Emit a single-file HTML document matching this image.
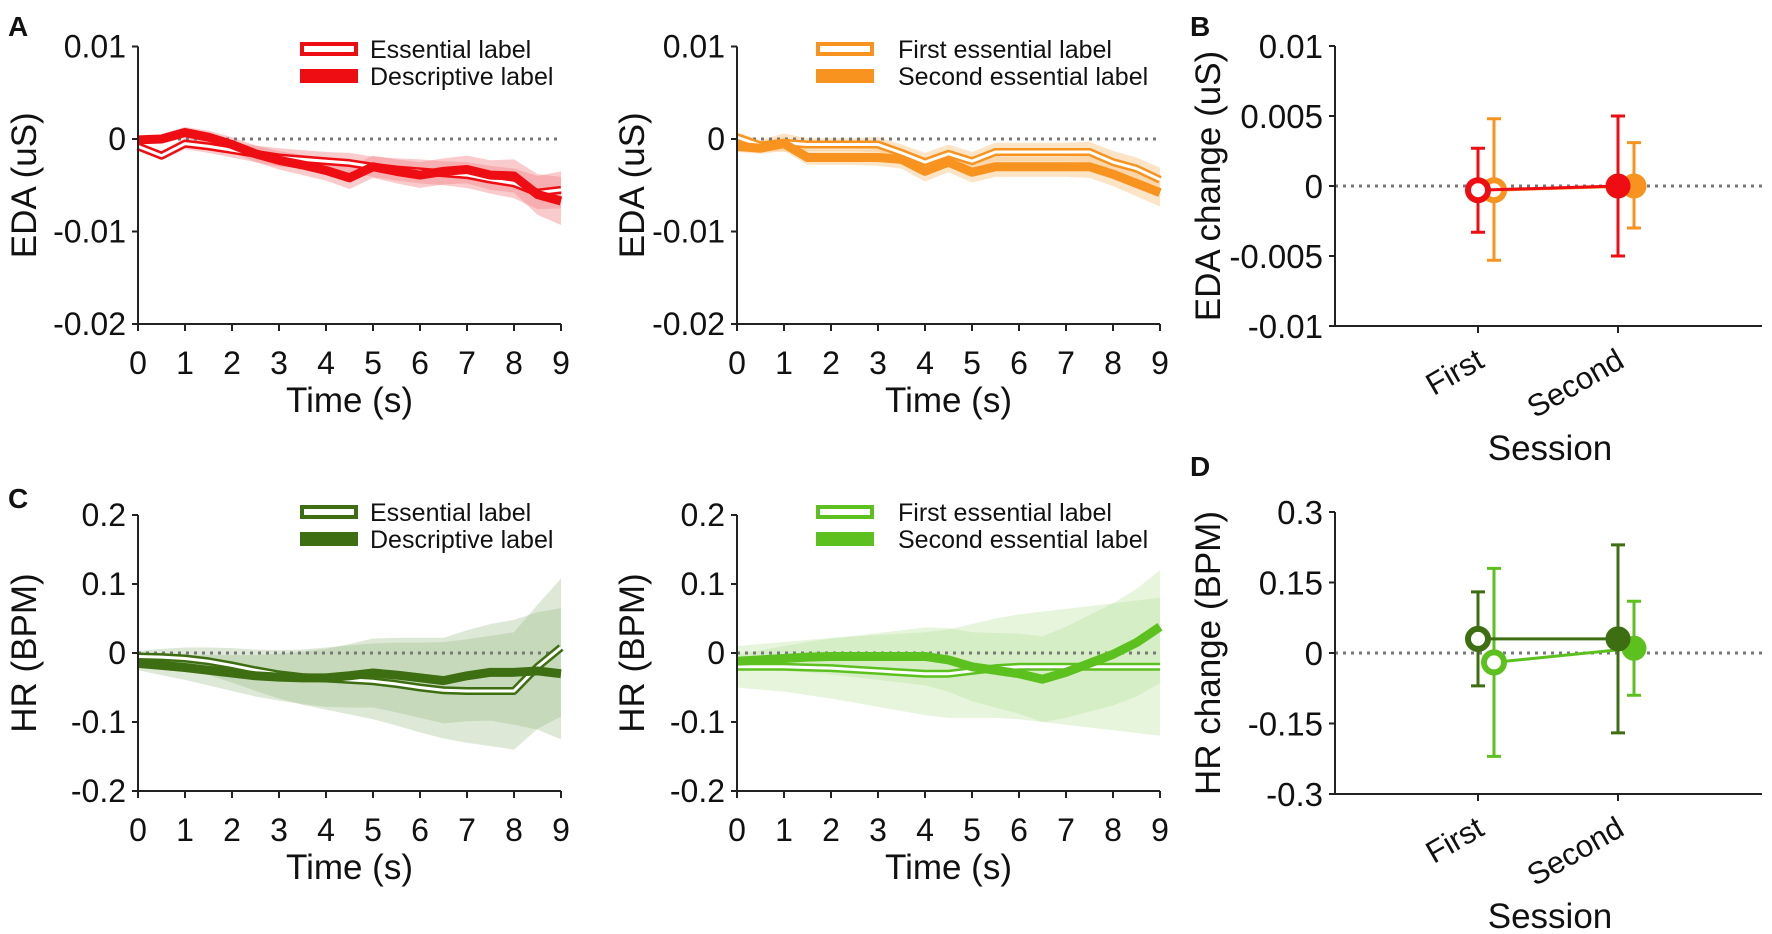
<!DOCTYPE html>
<html><head><meta charset="utf-8"><style>
html,body{margin:0;padding:0;background:#fff;}
svg{display:block;font-family:"Liberation Sans",Arial,sans-serif;}
</style></head><body>
<svg id="fig" width="1772" height="934" viewBox="0 0 1772 934" xmlns="http://www.w3.org/2000/svg"></svg>
<script>
const T = [0,0.5,1,1.5,2,2.5,3,3.5,4,4.5,5,5.5,6,6.5,7,7.5,8,8.5,9];
// Panel A left (EDA, x0.001 uS)
const aEss  = [-0.8,-1.8,-0.5,-0.8,-1.2,-1.6,-2.0,-2.2,-2.4,-2.6,-3.0,-3.3,-3.5,-3.7,-3.9,-4.4,-4.8,-5.8,-5.5];
const aDesc = [-0.1,0.0,0.7,0.2,-0.6,-1.6,-2.3,-2.8,-3.4,-4.2,-3.0,-3.5,-3.9,-3.5,-3.3,-3.9,-4.0,-6.0,-6.7];
const aEssErr  = [0.4,0.5,0.6,0.7,0.8,0.9,1.0,1.0,1.0,1.1,1.1,1.2,1.3,1.3,1.4,1.5,1.6,1.8,2.0];
const aDescErr = [0.4,0.5,0.6,0.7,0.8,0.9,1.0,1.1,1.1,1.2,1.2,1.3,1.4,1.4,1.5,1.6,1.8,2.2,2.6];
// Panel A right
const bFirst  = [0.2,-0.7,-0.4,-0.6,-0.6,-0.6,-0.6,-1.5,-2.5,-1.6,-2.4,-1.4,-1.4,-1.4,-1.4,-1.4,-2.5,-3.2,-4.4];
const bSecond = [-0.8,-1.0,-0.5,-2.0,-2.0,-2.0,-2.0,-2.2,-3.5,-2.5,-3.6,-3.0,-3.0,-3.0,-3.0,-3.0,-3.8,-4.8,-5.8];
const bFirstErr  = [0.5,0.6,1.0,0.7,0.7,0.7,0.8,0.9,1.0,1.0,1.0,1.0,1.0,1.0,1.0,1.1,1.2,1.2,1.3];
const bSecondErr = [0.6,0.6,0.8,0.8,0.8,0.8,0.9,1.0,1.1,1.1,1.1,1.1,1.1,1.1,1.1,1.2,1.3,1.4,1.5];
// Panel C left (HR, BPM)
const cEss  = [-0.005,-0.006,-0.008,-0.012,-0.018,-0.025,-0.031,-0.035,-0.037,-0.039,-0.041,-0.045,-0.05,-0.054,-0.055,-0.055,-0.055,-0.02,0.008];
const cDesc = [-0.015,-0.018,-0.021,-0.025,-0.029,-0.033,-0.035,-0.036,-0.036,-0.033,-0.029,-0.032,-0.036,-0.04,-0.033,-0.028,-0.028,-0.026,-0.03];
const cEssErr  = [0.008,0.012,0.016,0.02,0.025,0.03,0.035,0.04,0.045,0.05,0.055,0.06,0.065,0.07,0.075,0.08,0.085,0.09,0.1];
const cDescErr = [0.01,0.014,0.018,0.022,0.026,0.03,0.034,0.038,0.042,0.046,0.05,0.054,0.058,0.062,0.066,0.07,0.076,0.085,0.095];
// Panel C right
const dFirst  = [-0.02,-0.02,-0.02,-0.021,-0.022,-0.024,-0.026,-0.028,-0.03,-0.03,-0.026,-0.022,-0.02,-0.02,-0.02,-0.02,-0.02,-0.02,-0.02];
const dSecond = [-0.012,-0.01,-0.008,-0.006,-0.005,-0.005,-0.005,-0.005,-0.005,-0.01,-0.02,-0.025,-0.03,-0.038,-0.028,-0.015,-0.002,0.015,0.038];
const dFirstErr  = [0.03,0.033,0.036,0.04,0.044,0.048,0.052,0.056,0.06,0.064,0.068,0.072,0.076,0.08,0.084,0.088,0.092,0.096,0.1];
const dSecondErr = [0.01,0.014,0.018,0.022,0.026,0.03,0.034,0.038,0.042,0.046,0.05,0.054,0.058,0.062,0.066,0.07,0.074,0.078,0.082];
// Panel B
const sessions = ["First","Second"];
const bRedMean = [-0.0003, 0.0];
const bRedHi   = [0.0027, 0.005];
const bRedLo   = [-0.0033, -0.005];
const bOrMean  = [-0.0003, 0.0];
const bOrHi    = [0.0048, 0.0031];
const bOrLo    = [-0.0053, -0.003];
// Panel D
const dDkMean = [0.03, 0.03];
const dDkHi   = [0.13, 0.23];
const dDkLo   = [-0.07, -0.17];
const dLtMean = [-0.02, 0.01];
const dLtHi   = [0.18, 0.11];
const dLtLo   = [-0.22, -0.09];
const xTicks = [0,1,2,3,4,5,6,7,8,9];
const edaTicks = ["0.01","0","-0.01","-0.02"];
const hrTicks = ["0.2","0.1","0","-0.1","-0.2"];
const bTicks = ["0.01","0.005","0","-0.005","-0.01"];
const dTicks = ["0.3","0.15","0","-0.15","-0.3"];

const svg = document.getElementById('fig');
const NS = 'http://www.w3.org/2000/svg';
function mk(tag, attrs, parent, text){
  const e = document.createElementNS(NS, tag);
  for (const k in attrs) e.setAttribute(k, attrs[k]);
  if (text !== undefined) e.textContent = text;
  (parent || svg).appendChild(e);
  return e;
}
function txt(x,y,s,size,anchor,name,extra){
  const e = mk('text', Object.assign({x:x,y:y,'font-size':size,'text-anchor':anchor||'middle',fill:'#111'}, extra||{}), svg, s);
  
  
  return e;
}

function timePanel(cfg){
  const g = mk('g', {});
  
  
  const x0 = cfg.x0, x1 = cfg.x0 + 423;
  const sx = t => x0 + t/9*(x1-x0);
  const sy = v => cfg.yZero - v*cfg.yScale;
  cfg.series.forEach((s,si)=>{
    let up = T.map((t,i)=>sx(t)+','+sy(s.v[i]+s.e[i]));
    let lo = T.map((t,i)=>sx(t)+','+sy(s.v[i]-s.e[i])).reverse();
    const p = mk('polygon', {points: up.concat(lo).join(' '), fill: s.band, 'fill-opacity': s.bandOp}, g);
    
    
  });
  const zl = mk('line', {x1:x0, x2:x1, y1:sy(0), y2:sy(0), stroke:'#777', 'stroke-width':3, 'stroke-dasharray':'3 5'}, g);
  
  
  cfg.series.forEach(s=>{
    const pts = T.map((t,i)=>sx(t)+','+sy(s.v[i])).join(' ');
    if (s.hollow){
      const a = mk('polyline', {points:pts, fill:'none', stroke:s.col, 'stroke-width':8, 'stroke-linejoin':'round'}, g);
      
      
      const b = mk('polyline', {points:pts, fill:'none', stroke:'#fff', 'stroke-width':3, 'stroke-linejoin':'round'}, g);
      
      
    } else {
      const a = mk('polyline', {points:pts, fill:'none', stroke:s.col, 'stroke-width':9, 'stroke-linejoin':'round'}, g);
      
      
    }
  });
  const yTop = sy(cfg.yMax), yBot = sy(cfg.yMin);
  const ya = mk('line', {x1:x0, x2:x0, y1:yTop, y2:yBot+1, stroke:'#222', 'stroke-width':2}, g);
  
  
  const xa = mk('line', {x1:x0, x2:x1, y1:yBot, y2:yBot, stroke:'#222', 'stroke-width':2}, g);
  
  
  cfg.ticks.forEach((lab,i)=>{
    const y = yTop + i*(yBot-yTop)/(cfg.ticks.length-1);
    mk('line', {x1:x0-6, x2:x0, y1:y, y2:y, stroke:'#222', 'stroke-width':2}, g);
    txt(x0-12, y+11, lab, 32, 'end', 'y-tick-label');
  });
  xTicks.forEach(t=>{
    mk('line', {x1:sx(t), x2:sx(t), y1:yBot, y2:yBot+7, stroke:'#222', 'stroke-width':2}, g);
    txt(sx(t), yBot+50, String(t), 32, 'middle', 'x-tick-label');
  });
  txt((x0+x1)/2, yBot+88, 'Time (s)', 35, 'middle', 'x-axis-title');
  txt(0,0, cfg.ytitle, 35, 'middle', 'y-axis-title', {transform:`translate(${cfg.ytx},${(yTop+yBot)/2}) rotate(-90)`});
  cfg.series.forEach((s,i)=>{
    const ly = cfg.legY + i*27;
    const lx = cfg.legX;
    if (s.hollow){
      const r = mk('rect', {x:lx+2, y:ly-5, width:54, height:10, fill:'#fff', stroke:s.col, 'stroke-width':4});
      
      
    } else {
      const r = mk('rect', {x:lx, y:ly-7, width:58, height:14, fill:s.col});
      
      
    }
    txt(cfg.legT, ly+9, s.label, 25, 'start', 'legend-entry');
  });
}

const RED='#ee0d12', OR='#f7931e', DK='#3e6e12', LT='#5cc11f';
timePanel({name:'eda-time-essential-vs-descriptive', x0:138, yZero:139, yScale:9250, yMax:0.01, yMin:-0.02, ticks:edaTicks, ytitle:'EDA (uS)', ytx:36, legY:49, legX:300, legT:370,
  series:[{key:'essential',label:'Essential label',v:aEss.map(v=>v/1000),e:aEssErr.map(v=>v/1000),col:RED,band:'#f38b8f',bandOp:0.45,hollow:true},
          {key:'descriptive',label:'Descriptive label',v:aDesc.map(v=>v/1000),e:aDescErr.map(v=>v/1000),col:RED,band:'#f38b8f',bandOp:0.45,hollow:false}]});
timePanel({name:'eda-time-first-vs-second', x0:737, yZero:139, yScale:9250, yMax:0.01, yMin:-0.02, ticks:edaTicks, ytitle:'EDA (uS)', ytx:644, legY:49, legX:816, legT:898,
  series:[{key:'first-essential',label:'First essential label',v:bFirst.map(v=>v/1000),e:bFirstErr.map(v=>v/1000),col:OR,band:'#f9c98f',bandOp:0.5,hollow:true},
          {key:'second-essential',label:'Second essential label',v:bSecond.map(v=>v/1000),e:bSecondErr.map(v=>v/1000),col:OR,band:'#f9c98f',bandOp:0.5,hollow:false}]});
timePanel({name:'hr-time-essential-vs-descriptive', x0:138, yZero:653, yScale:690, yMax:0.2, yMin:-0.2, ticks:hrTicks, ytitle:'HR (BPM)', ytx:36, legY:512, legX:300, legT:370,
  series:[{key:'essential',label:'Essential label',v:cEss,e:cEssErr,col:DK,band:'#9fbd8a',bandOp:0.35,hollow:true},
          {key:'descriptive',label:'Descriptive label',v:cDesc,e:cDescErr,col:DK,band:'#9fbd8a',bandOp:0.35,hollow:false}]});
timePanel({name:'hr-time-first-vs-second', x0:737, yZero:653, yScale:690, yMax:0.2, yMin:-0.2, ticks:hrTicks, ytitle:'HR (BPM)', ytx:644, legY:512, legX:816, legT:898,
  series:[{key:'first-essential',label:'First essential label',v:dFirst,e:dFirstErr,col:LT,band:'#b6e39a',bandOp:0.35,hollow:true},
          {key:'second-essential',label:'Second essential label',v:dSecond,e:dSecondErr,col:LT,band:'#b6e39a',bandOp:0.35,hollow:false}]});

function sessPanel(cfg){
  const x0 = 1335, x1 = 1762;
  const xs = [1478, 1618];
  const sy = v => cfg.yZero - v*cfg.yScale;
  const yTop = sy(cfg.yMax), yBot = sy(-cfg.yMax);
  const zl = mk('line', {x1:x0, x2:x1, y1:sy(0), y2:sy(0), stroke:'#777', 'stroke-width':3, 'stroke-dasharray':'3 5'});
  
  
  cfg.groups.forEach(gr=>{
    const px = xs.map(x=>x+gr.off);
    const ln = mk('line', {x1:px[0], x2:px[1], y1:sy(gr.m[0]), y2:sy(gr.m[1]), stroke:gr.col, 'stroke-width':3});
    
    
    px.forEach((x,i)=>{
      const eb = mk('path', {d:`M${x},${sy(gr.hi[i])}V${sy(gr.lo[i])}M${x-7},${sy(gr.hi[i])}H${x+7}M${x-7},${sy(gr.lo[i])}H${x+7}`, stroke:gr.col, 'stroke-width':3, fill:'none'});
      
      
      const c = mk('circle', {cx:x, cy:sy(gr.m[i]), r: i===0?10:11, fill: i===0?'#fff':gr.col, stroke:gr.col, 'stroke-width': i===0?6:3});
      
      
    });
  });
  const ya = mk('line', {x1:x0, x2:x0, y1:yTop, y2:yBot+1, stroke:'#222', 'stroke-width':2});
  
  
  const xa = mk('line', {x1:x0, x2:x1, y1:yBot, y2:yBot, stroke:'#222', 'stroke-width':2});
  
  
  cfg.ticks.forEach((lab,i)=>{
    const y = yTop + i*(yBot-yTop)/(cfg.ticks.length-1);
    mk('line', {x1:x0-6, x2:x0, y1:y, y2:y, stroke:'#222', 'stroke-width':2});
    txt(x0-12, y+12, lab, 33, 'end', 'y-tick-label');
  });
  xs.forEach((x,i)=>{
    mk('line', {x1:x, x2:x, y1:yBot, y2:yBot+7, stroke:'#222', 'stroke-width':2});
    txt(0,0, sessions[i], 31, 'end', 'x-tick-label', {transform:`translate(${x+8},${yBot+40}) rotate(-30)`});
  });
  txt(1550, yBot+134, 'Session', 35, 'middle', 'x-axis-title');
  txt(0,0, cfg.ytitle, 35, 'middle', 'y-axis-title', {transform:`translate(1220,${(yTop+yBot)/2}) rotate(-90)`});
}
sessPanel({yZero:186, yScale:14000, yMax:0.01, ticks:bTicks, ytitle:'EDA change (uS)',
  groups:[{key:'orange',col:OR,off:16,m:bOrMean,hi:bOrHi,lo:bOrLo},{key:'red',col:RED,off:0,m:bRedMean,hi:bRedHi,lo:bRedLo}]});
sessPanel({yZero:653, yScale:470, yMax:0.3, ticks:dTicks, ytitle:'HR change (BPM)',
  groups:[{key:'light-green',col:LT,off:16,m:dLtMean,hi:dLtHi,lo:dLtLo},{key:'dark-green',col:DK,off:0,m:dDkMean,hi:dDkHi,lo:dDkLo}]});

txt(8, 36, 'A', 28, 'start', 'panel-label-a', {'font-weight':'bold'});
txt(1190, 36, 'B', 28, 'start', 'panel-label-b', {'font-weight':'bold'});
txt(8, 508, 'C', 28, 'start', 'panel-label-c', {'font-weight':'bold'});
txt(1190, 476, 'D', 28, 'start', 'panel-label-d', {'font-weight':'bold'});
</script>
</body></html>
